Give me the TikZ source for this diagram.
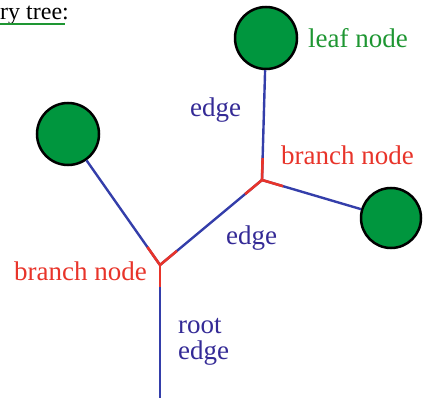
\documentclass[tikz,border=0pt]{standalone}
\usepackage{fontspec}
\setmainfont{Liberation Serif}
\usetikzlibrary{calc}
\definecolor{edgeblue}{RGB}{52,62,170}
\definecolor{labelblue}{RGB}{52,42,150}
\definecolor{branchred}{RGB}{232,52,42}
\definecolor{leafgreen}{RGB}{0,150,62}
\definecolor{textgreen}{RGB}{30,150,50}
\tikzset{
  leaf/.style={circle,draw=black,line width=2.5pt,fill=leafgreen,minimum size=62pt,inner sep=0pt},
  bluepart/.style={draw=edgeblue,line width=2.4pt},
  redpart/.style={draw=branchred,line width=2.6pt},
  edgelabel/.style={text=labelblue,font=\fontsize{27}{26}\selectfont,inner sep=0pt},
  branchlabel/.style={text=branchred,font=\fontsize{27}{26}\selectfont,inner sep=0pt}
}
\begin{document}
\begin{tikzpicture}[x=1pt,y=-1pt]
\useasboundingbox (0,0) rectangle (425,403);
\node[anchor=base west,inner sep=0pt,font=\fontsize{24}{26}\selectfont] (title) at (0,20) {ry tree:};
\draw[textgreen,line width=1.6pt] (title.base west) ++(0,4) coordinate (ulstart) -- ++(65,0) coordinate (ulend);
\node[leaf] (topleaf) at (266,38) {};
\node[leaf] (leftleaf) at (68,134) {};
\node[leaf,minimum size=60pt] (rightleaf) at (391,218) {};
\coordinate (upper) at (262,180);
\coordinate (lower) at (160,265);
\coordinate (rootend) at (160,398);
\draw[bluepart] (upper) -- (topleaf);
\draw[bluepart] (upper) -- (rightleaf);
\draw[bluepart] (lower) -- (upper);
\draw[bluepart] (lower) -- (leftleaf);
\draw[bluepart] (lower) -- (rootend);
\draw[redpart] (upper) -- ($(upper)!22pt!(topleaf)$);
\draw[redpart] (upper) -- ($(upper)!22pt!(rightleaf)$);
\draw[redpart] (upper) -- ($(upper)!22pt!(lower)$);
\draw[redpart] (lower) -- ($(lower)!22pt!(upper)$);
\draw[redpart] (lower) -- ($(lower)!22pt!(leftleaf)$);
\draw[redpart] (lower) -- ($(lower)!22pt!(rootend)$);
\node[anchor=base west,text=textgreen,font=\fontsize{27}{26}\selectfont,inner sep=0pt] (leaflabel) at (308,48) {leaf node};
\node[edgelabel,anchor=base west] (upperedge) at (190,117) {edge};
\node[branchlabel,anchor=base west] (upperbranch) at (281,165) {branch node};
\node[edgelabel,anchor=base west] (loweredge) at (226,244) {edge};
\node[branchlabel,anchor=base west] (lowerbranch) at (14,280) {branch node};
\node[edgelabel,anchor=north west,align=left] (rootlabel) at (178,318) {root\\edge};
\end{tikzpicture}
\end{document}
